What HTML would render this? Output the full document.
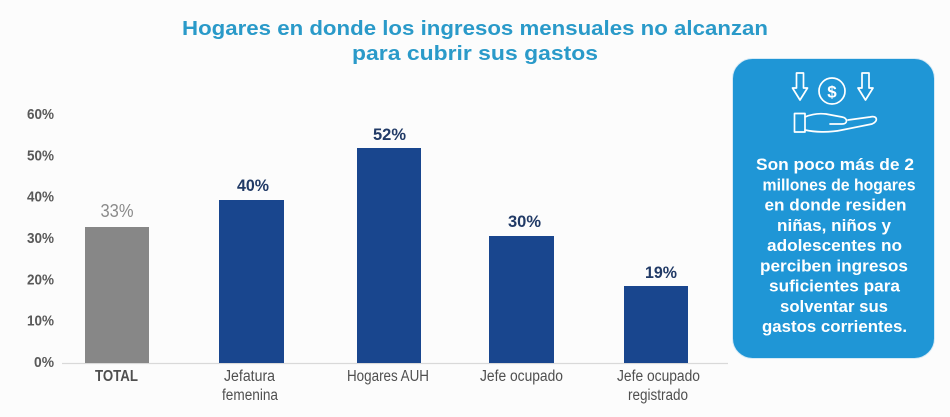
<!DOCTYPE html>
<html><head><meta charset="utf-8"><style>
html,body{margin:0;padding:0;background:#fcfcfc;}
svg{display:block;}
text{font-family:"Liberation Sans",Arial,sans-serif;}
</style></head><body>
<svg width="950" height="417" viewBox="0 0 950 417" xmlns="http://www.w3.org/2000/svg">
<rect width="950" height="417" fill="#fcfcfc"/>
<!-- title -->
<g fill="#2a9ac9" font-weight="bold" font-size="20" text-anchor="middle">
<text x="475" y="35" textLength="586" lengthAdjust="spacingAndGlyphs">Hogares en donde los ingresos mensuales no alcanzan</text>
<text x="475" y="60" textLength="246" lengthAdjust="spacingAndGlyphs">para cubrir sus gastos</text>
</g>
<!-- y axis labels -->
<g fill="#595959" font-weight="bold" font-size="15" text-anchor="end">
<text x="54" y="119" textLength="27" lengthAdjust="spacingAndGlyphs">60%</text>
<text x="54" y="160.3" textLength="27" lengthAdjust="spacingAndGlyphs">50%</text>
<text x="54" y="201.7" textLength="27" lengthAdjust="spacingAndGlyphs">40%</text>
<text x="54" y="243" textLength="27" lengthAdjust="spacingAndGlyphs">30%</text>
<text x="54" y="284.3" textLength="27" lengthAdjust="spacingAndGlyphs">20%</text>
<text x="54" y="325.7" textLength="27" lengthAdjust="spacingAndGlyphs">10%</text>
<text x="54" y="367" textLength="20" lengthAdjust="spacingAndGlyphs">0%</text>
</g>
<!-- axis -->
<line x1="62" y1="363.5" x2="728" y2="363.5" stroke="#d9d9d9" stroke-width="1.2"/>
<!-- bars -->
<rect x="85" y="227" width="64" height="136" fill="#878787"/>
<rect x="219" y="200" width="65" height="163" fill="#19468e"/>
<rect x="357" y="148" width="64" height="215" fill="#19468e"/>
<rect x="489" y="236" width="65" height="127" fill="#19468e"/>
<rect x="624" y="286" width="64" height="77" fill="#19468e"/>
<!-- value labels -->
<g font-size="17" text-anchor="middle">
<text x="117" y="217" fill="#8a8a8a" font-size="18" textLength="33" lengthAdjust="spacingAndGlyphs">33%</text>
<text x="253" y="191" fill="#213a66" font-weight="bold" textLength="32" lengthAdjust="spacingAndGlyphs">40%</text>
<text x="389.5" y="140" fill="#213a66" font-weight="bold" textLength="33" lengthAdjust="spacingAndGlyphs">52%</text>
<text x="524.5" y="227" fill="#213a66" font-weight="bold" textLength="33" lengthAdjust="spacingAndGlyphs">30%</text>
<text x="661" y="278" fill="#213a66" font-weight="bold" textLength="32" lengthAdjust="spacingAndGlyphs">19%</text>
</g>
<!-- category labels -->
<g fill="#4f4f4f" font-size="15.5" text-anchor="middle">
<text x="116.5" y="381" font-weight="bold" textLength="43" lengthAdjust="spacingAndGlyphs">TOTAL</text>
<text x="249.5" y="381" textLength="51" lengthAdjust="spacingAndGlyphs">Jefatura</text>
<text x="250" y="400" textLength="56" lengthAdjust="spacingAndGlyphs">femenina</text>
<text x="388" y="381" textLength="82" lengthAdjust="spacingAndGlyphs">Hogares AUH</text>
<text x="521.5" y="381" textLength="83" lengthAdjust="spacingAndGlyphs">Jefe ocupado</text>
<text x="658.5" y="381" textLength="83" lengthAdjust="spacingAndGlyphs">Jefe ocupado</text>
<text x="658" y="400" textLength="60" lengthAdjust="spacingAndGlyphs">registrado</text>
</g>
<!-- right box -->
<rect x="732.5" y="58.5" width="202" height="300" rx="20" ry="20" fill="#1f96d6" stroke="#d6eaf6" stroke-width="1"/>
<!-- icons -->
<g fill="none" stroke="#ffffff" stroke-width="1.7" stroke-linejoin="round" stroke-linecap="round">
<path d="M796.5 73 H803.5 V88 H807.5 L800 100 L792.5 88 H796.5 Z"/>
<path d="M862 73 H869 V88 H873 L865.5 100 L858 88 H862 Z"/>
<circle cx="832" cy="91" r="13"/>
<path d="M794.5 113.5 H805 V132 H794.5 Z"/>
<path d="M805 117 C812 114 818 113 826 114 L842 117 C848 118 848 124 842 124 L830 124"/>
<path d="M805 130 C814 132 828 133 842 130 L872 124 C879 121 877 115 870 117 L848 120"/>
</g>
<text x="832" y="97.5" fill="#ffffff" font-size="17" font-weight="bold" text-anchor="middle">$</text>
<!-- box text -->
<g fill="#ffffff" font-weight="bold" font-size="16.5" text-anchor="middle">
<text x="835" y="170" textLength="158" lengthAdjust="spacingAndGlyphs">Son poco más de 2</text>
<text x="839" y="190.3" textLength="153" lengthAdjust="spacingAndGlyphs">millones de hogares</text>
<text x="835.5" y="210.5" textLength="142" lengthAdjust="spacingAndGlyphs">en donde residen</text>
<text x="834" y="230.8" textLength="114" lengthAdjust="spacingAndGlyphs">niñas, niños y</text>
<text x="834.5" y="251" textLength="135" lengthAdjust="spacingAndGlyphs">adolescentes no</text>
<text x="834" y="271.3" textLength="148" lengthAdjust="spacingAndGlyphs">perciben ingresos</text>
<text x="834.5" y="291.5" textLength="131" lengthAdjust="spacingAndGlyphs">suficientes para</text>
<text x="834" y="311.8" textLength="108" lengthAdjust="spacingAndGlyphs">solventar sus</text>
<text x="834.5" y="332" textLength="145" lengthAdjust="spacingAndGlyphs">gastos corrientes.</text>
</g>
</svg>
</body></html>
